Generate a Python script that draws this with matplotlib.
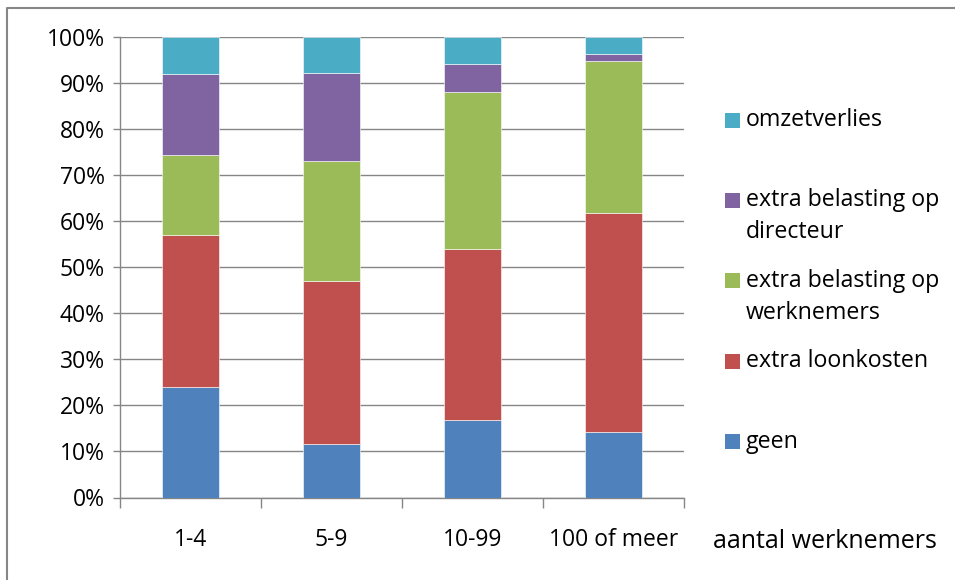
import matplotlib
matplotlib.use("Agg")
import matplotlib.pyplot as plt
from matplotlib.patches import Rectangle
from matplotlib.lines import Line2D
from matplotlib.ticker import PercentFormatter

plt.rcParams['font.family'] = ['Open Sans', 'DejaVu Sans']

categories = ['1-4', '5-9', '10-99', '100 of meer']
geen = [24.0, 11.7, 16.8, 14.2]
loonkosten = [33.0, 35.3, 37.2, 47.6]
werknemers = [17.4, 26.1, 34.0, 33.0]
directeur = [17.5, 19.0, 6.1, 1.5]
omzetverlies = [8.1, 7.9, 5.9, 3.7]

series = [
    ('geen', geen, '#4F81BD'),
    ('extra loonkosten', loonkosten, '#C0504D'),
    ('extra belasting op\nwerknemers', werknemers, '#9BBB59'),
    ('extra belasting op\ndirecteur', directeur, '#8064A2'),
    ('omzetverlies', omzetverlies, '#4BACC6'),
]

W, H = 955, 580
fig = plt.figure(figsize=(W / 100, H / 100), dpi=100)
ax = fig.add_axes([120 / W, 1 - 497.5 / H, (684 - 120) / W, (497.5 - 37) / H])

x = list(range(len(categories)))
bottom = [0.0] * len(categories)
for name, vals, col in series:
    ax.bar(x, vals, width=0.4, bottom=bottom, color=col, edgecolor='white',
           linewidth=0.4, zorder=3)
    bottom = [b + v for b, v in zip(bottom, vals)]

ax.set_xlim(-0.5, len(categories) - 0.5)
ax.set_ylim(0, 100)
ax.set_yticks(range(0, 101, 10))
ax.yaxis.set_major_formatter(PercentFormatter(decimals=0))
ax.set_xticks(x)
ax.set_xticklabels(categories)
ax.set_xticks([i - 0.5 for i in range(len(categories) + 1)], minor=True)
ax.tick_params(axis='x', which='major', length=0, pad=22, labelsize=16.5)
ax.tick_params(axis='x', which='minor', length=7, color='#868686', width=1)
ax.tick_params(axis='y', length=5, color='#868686', width=1, labelsize=16.5, pad=6)
ax.grid(axis='y', color='#868686', linewidth=1, zorder=0)
for s in ['top', 'right']:
    ax.spines[s].set_visible(False)
for s in ['left', 'bottom']:
    ax.spines[s].set_color('#868686')
    ax.spines[s].set_linewidth(1)

# axis title to the right of the categories
fig.text(713 / W, 1 - 542 / H, 'aantal werknemers', fontsize=18, va='center', ha='left')

# legend, Excel style: squares evenly spaced, text hanging from the first line
for i, (name, vals, col) in enumerate(reversed(series)):
    yc = 120 + i * 80.4
    fig.patches.append(Rectangle((725 / W, 1 - (yc + 7.5) / H), 15 / W, 15 / H,
                                 transform=fig.transFigure, facecolor=col, edgecolor='none'))
    fig.text(746 / W, 1 - yc / H, name.split('\n')[0], fontsize=16.7, va='center', ha='left')
    if '\n' in name:
        fig.text(746 / W, 1 - (yc + 32) / H, name.split('\n')[1], fontsize=16.7,
                 va='center', ha='left')

# outer frame of the chart: only left and top edges are visible
fig.lines.append(Line2D([6.5 / W, 6.5 / W, 1], [0, 1 - 7.5 / H, 1 - 7.5 / H],
                        transform=fig.transFigure, color='#868686', linewidth=1.5))

fig.savefig('out.png', dpi=100)
